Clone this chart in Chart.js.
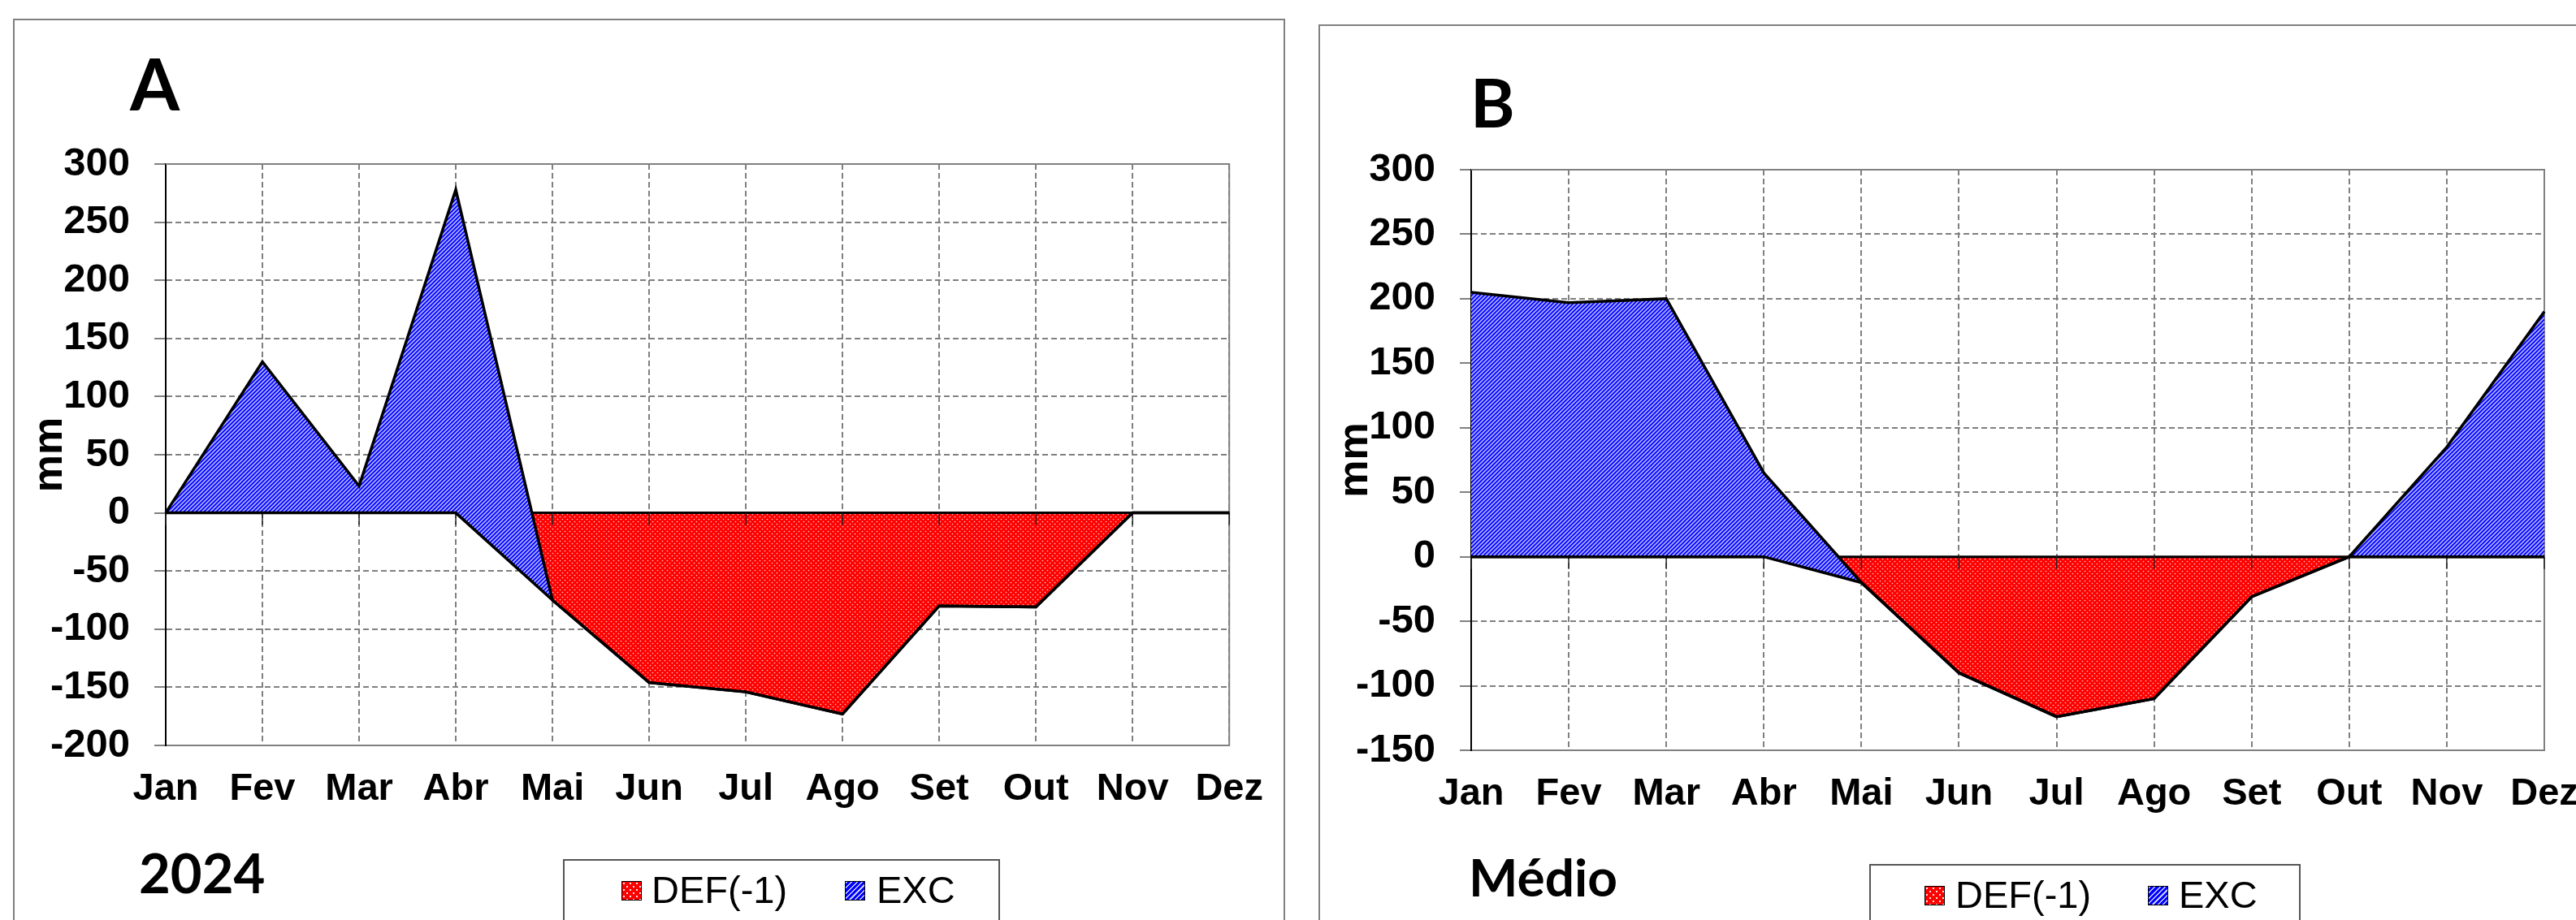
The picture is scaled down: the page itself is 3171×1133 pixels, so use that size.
<!DOCTYPE html>
<html>
<head>
<meta charset="utf-8">
<script src="https://cdn.jsdelivr.net/npm/chart.js@4.4.1/dist/chart.umd.min.js"></script>
<style>
  html, body { margin: 0; padding: 0; background: #fff; }
  body { width: 3171px; height: 1133px; overflow: hidden; position: relative; }
  .panel { position: absolute; border: 2px solid #808080; box-sizing: border-box; }
  canvas.chart { position: absolute; }
  .tag { position: absolute; font-family: Lato, sans-serif; font-weight: 700; line-height: 1; color: #000; white-space: nowrap; }
  .legend { position: absolute; border: 2px solid #555; box-sizing: border-box; height: 150px; }
  .sw { position: absolute; width: 25px; height: 24px; box-sizing: border-box; border: 1.5px solid #000; }
  .sw.def {
    background-color: #ff0000;
    background-image: radial-gradient(circle at 2px 2px, rgba(255,255,255,.9) 1px, transparent 1.5px),
                      radial-gradient(circle at 6px 6px, rgba(255,255,255,.9) 1px, transparent 1.5px);
    background-size: 8px 8px;
  }
  .sw.exc { background: repeating-linear-gradient(-45deg, #0000ff 0 3px, #c4caff 3px 4.5px); }
  .lt { position: absolute; font-family: 'Liberation Sans', Arial, sans-serif; font-size: 47px; line-height: 1; color: #000; white-space: nowrap; }
</style>
</head>
<body>
  <div class="panel" style="left:16px;top:23px;width:1566px;height:1200px;"></div>
  <div class="panel" style="left:1623px;top:30px;width:1600px;height:1200px;"></div>

  <canvas id="chartA" class="chart" width="1565" height="1110" style="left:16px;top:23px;width:1565px;height:1110px;"></canvas>
  <canvas id="chartB" class="chart" width="1600" height="1103" style="left:1623px;top:30px;width:1600px;height:1103px;"></canvas>

  <div class="tag" style="left:160px;top:58px;font-size:88px;">A</div>
  <div class="tag" style="left:1810px;top:84px;font-size:83px;">B</div>
  <div class="tag" style="left:171px;top:1041px;font-size:67px;">2024</div>
  <div class="tag" style="left:1808px;top:1048px;font-size:64px;">Médio</div>

  <div class="legend" style="left:693px;top:1058px;width:538px;"></div>
  <div class="sw def" style="left:765px;top:1085px;"></div>
  <div class="lt" style="left:802px;top:1072px;">DEF(-1)</div>
  <div class="sw exc" style="left:1040px;top:1085px;"></div>
  <div class="lt" style="left:1079px;top:1072px;">EXC</div>

  <div class="legend" style="left:2301px;top:1064px;width:531px;"></div>
  <div class="sw def" style="left:2369px;top:1091px;"></div>
  <div class="lt" style="left:2407px;top:1078px;">DEF(-1)</div>
  <div class="sw exc" style="left:2644px;top:1091px;"></div>
  <div class="lt" style="left:2682px;top:1078px;">EXC</div>

<script>
const months = ['Jan', 'Fev', 'Mar', 'Abr', 'Mai', 'Jun', 'Jul', 'Ago', 'Set', 'Out', 'Nov', 'Dez'];

// A - 2024
const def2024 = [0, 0, 0, 0, -75, -146, -154, -173, -80, -81, 0, 0];
const exc2024 = [0, 130, 23, 278, 0, 0, 0, 0, 0, 0, 0, 0];
const yRange2024 = [-200, 300];

// B - Médio
const defMedio = [0, 0, 0, 0, -20, -90, -124, -110, -31, 0, 0, 0];
const excMedio = [205, 197, 200, 65, 0, 0, 0, 0, 0, 0, 85, 190];
const yRangeMedio = [-150, 300];

const yStep = 50;

Chart.defaults.font.family = "'Liberation Sans', Arial, sans-serif";

function makePattern(kind) {
  const c = document.createElement('canvas');
  const g = c.getContext('2d');
  if (kind === 'exc') {
    c.width = c.height = 5;
    g.fillStyle = '#0a0aff';
    g.fillRect(0, 0, 5, 5);
    g.strokeStyle = 'rgba(215,220,255,0.9)';
    g.lineWidth = 1.5;
    g.beginPath();
    g.moveTo(-1, 6); g.lineTo(6, -1);
    g.moveTo(-1, 1); g.lineTo(1, -1);
    g.moveTo(4, 6); g.lineTo(6, 4);
    g.stroke();
  } else {
    c.width = c.height = 6;
    g.fillStyle = '#ff0000';
    g.fillRect(0, 0, 6, 6);
    g.fillStyle = 'rgba(255,235,235,0.85)';
    g.beginPath(); g.arc(1.5, 1.5, 0.85, 0, Math.PI * 2); g.fill();
    g.beginPath(); g.arc(4.5, 4.5, 0.85, 0, Math.PI * 2); g.fill();
  }
  return g.createPattern(c, 'repeat');
}

const redFill = makePattern('def');
const blueFill = makePattern('exc');

// zero axis drawn after the red area, below the blue one; plot frame top/right
const excelAxes = {
  id: 'excelAxes',
  beforeDatasetsDraw(chart) {
    const {ctx, chartArea: a} = chart;
    ctx.save();
    ctx.strokeStyle = '#808080';
    ctx.lineWidth = 2;
    ctx.beginPath();
    ctx.moveTo(a.left, a.top);
    ctx.lineTo(a.right, a.top);
    ctx.lineTo(a.right, a.bottom);
    ctx.stroke();
    ctx.restore();
  },
  afterDatasetDraw(chart, args) {
    if (args.index !== 2) return;
    const {ctx, chartArea: a, scales: {x, y}} = chart;
    const y0 = y.getPixelForValue(0);
    ctx.save();
    ctx.strokeStyle = '#000';
    ctx.lineWidth = 3;
    ctx.beginPath();
    ctx.moveTo(a.left, y0);
    ctx.lineTo(a.right, y0);
    ctx.stroke();
    ctx.strokeStyle = '#222';
    ctx.lineWidth = 1.5;
    x.ticks.forEach((t, i) => {
      const px = x.getPixelForTick(i);
      ctx.beginPath();
      ctx.moveTo(px, y0);
      ctx.lineTo(px, y0 + 15);
      ctx.stroke();
    });
    ctx.restore();
  }
};

function makeChart(id, def, exc, yRange, padRight, padBottom) {
  const ctx = document.getElementById(id).getContext('2d');
  return new Chart(ctx, {
    type: 'line',
    data: {
      labels: months,
      datasets: [
        {
          label: 'DEF(-1)', data: def, stack: 'bal',
          borderColor: '#000', borderWidth: 3.5, backgroundColor: redFill,
          fill: false, pointRadius: 0, tension: 0, order: 0
        },
        {
          label: 'EXC', data: exc, stack: 'bal',
          borderColor: '#000', borderWidth: 3.5, backgroundColor: blueFill,
          fill: '-1', pointRadius: 0, tension: 0, order: 0
        },
        {
          label: 'DEF area', data: def, stack: 'defArea',
          borderColor: 'rgba(0,0,0,0)', borderWidth: 0, backgroundColor: redFill,
          fill: 'origin', pointRadius: 0, tension: 0, order: 1
        }
      ]
    },
    options: {
      responsive: false,
      animation: false,
      events: [],
      layout: { padding: { left: 0, top: 179, right: padRight, bottom: padBottom } },
      plugins: {
        legend: { display: false },
        tooltip: { enabled: false }
      },
      scales: {
        x: {
          grid: { color: '#808080', lineWidth: 2, drawTicks: false },
          border: { display: true, color: '#808080', width: 2, dash: [7, 4] },
          ticks: {
            color: '#000', padding: 26, maxRotation: 0, autoSkip: false,
            font: { size: 47, weight: 'bold' }
          },
          afterFit: s => { s.height = 100; }
        },
        y: {
          stacked: true,
          min: yRange[0],
          max: yRange[1],
          grid: { color: '#808080', lineWidth: 2, tickLength: 14, tickColor: '#808080', tickWidth: 2 },
          border: { display: true, color: '#000', width: 2, dash: [7, 4] },
          ticks: {
            stepSize: yStep, color: '#000', padding: 30,
            font: { size: 49, weight: 'bold' }
          },
          title: {
            display: true, text: 'mm', color: '#000',
            font: { size: 52, weight: 'bold' },
            padding: { top: 14, bottom: 0 }
          },
          afterFit: s => { s.width = 188; }
        }
      }
    },
    plugins: [excelAxes]
  });
}

makeChart('chartA', def2024, exc2024, yRange2024, 58, 115);
makeChart('chartB', defMedio, excMedio, yRangeMedio, 91, 109);
</script>
</body>
</html>
